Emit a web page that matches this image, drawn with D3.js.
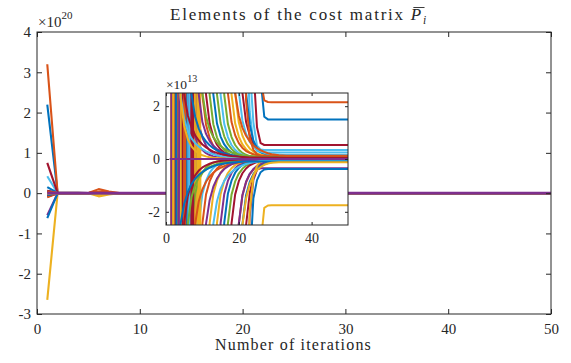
<!DOCTYPE html>
<html>
<head>
<meta charset="utf-8">
<script src="https://cdn.jsdelivr.net/npm/d3@7"></script>
<style>
  body { margin: 0; background: #fff; }
  svg { display: block; }
  text { font-family: "Liberation Serif", "Times New Roman", serif; fill: #262626; }
</style>
</head>
<body>
<svg id="chart" width="571" height="363"></svg>
<script>
// Iteration index (x values)
const iterations = [1,2,3,4,5,6,7,8,9,10,11,12,13,14,15,16,17,18,19,20,21,22,23,24,25,26,27,28,29,30,31,32,33,34,35,36,37,38,39,40,41,42,43,44,45,46,47,48,49,50];

// Elements of the cost matrix per iteration, in units of 1e13
const e01 = [2.2e7,1.2e5,9e4,6e4,4e4,2.5e4,1.5e4,9e3,6e3,4e3,2.5e3,1.6e3,1e3,700,450,300,200,130,90,60,40,27,18,12,8,3.0,1.6,1.5,1.5,1.5,1.5,1.5,1.5,1.5,1.5,1.5,1.5,1.5,1.5,1.5,1.5,1.5,1.5,1.5,1.5,1.5,1.5,1.5,1.5,1.5];
const e02 = [3.2e7,1.5e5,1e5,7e4,5e4,1.0e6,4e5,3e4,1.5e4,8e3,5e3,3e3,2e3,1.3e3,900,600,400,260,170,110,70,45,28,17,9,3.0,2.22,2.16,2.15,2.15,2.15,2.15,2.15,2.15,2.15,2.15,2.15,2.15,2.15,2.15,2.15,2.15,2.15,2.15,2.15,2.15,2.15,2.15,2.15,2.15];
const e03 = [-2.65e7,-1.3e5,-9e4,-6e4,-4e4,-8e5,-3e5,-2.5e4,-1.3e4,-7e3,-4.5e3,-2.8e3,-1.8e3,-1.2e3,-800,-550,-370,-250,-160,-100,-65,-40,-25,-15,-8,-3.2,-1.85,-1.76,-1.75,-1.75,-1.75,-1.75,-1.75,-1.75,-1.75,-1.75,-1.75,-1.75,-1.75,-1.75,-1.75,-1.75,-1.75,-1.75,-1.75,-1.75,-1.75,-1.75,-1.75,-1.75];
const e04 = [-5.5e6,-6e4,-4e4,-2.8e4,-1.9e4,-1.3e4,-8e3,-5e3,-3.2e3,-2e3,-1.3e3,-850,-550,-360,-240,-160,-100,-65,-40,-25,-14,-6,-2.2,-0.8,-0.4,-0.35,-0.35,-0.35,-0.35,-0.35,-0.35,-0.35,-0.35,-0.35,-0.35,-0.35,-0.35,-0.35,-0.35,-0.35,-0.35,-0.35,-0.35,-0.35,-0.35,-0.35,-0.35,-0.35,-0.35,-0.35];
const e05 = [3e5,8e3,-35,25,2e3,1.3e3,800,400,90,25,8,2.42,1.32,0.82,0.52,0.34,0.22,0.15,0.1,0.07,0.05,0.04,0.03,0.02,0.02,0.02,0.02,0.02,0.02,0.02,0.02,0.02,0.02,0.02,0.02,0.02,0.02,0.02,0.02,0.02,0.02,0.02,0.02,0.02,0.02,0.02,0.02,0.02,0.02,0.02];
const e06 = [4.2e6,5e4,3.5e4,2.4e4,1.6e4,1.1e4,7e3,4.5e3,3e3,2e3,1.3e3,850,560,370,240,160,100,65,40,24,13,7,3.5,1.4,0.5,0.36,0.34,0.34,0.34,0.34,0.34,0.34,0.34,0.34,0.34,0.34,0.34,0.34,0.34,0.34,0.34,0.34,0.34,0.34,0.34,0.34,0.34,0.34,0.34,0.34];
const e07 = [7.5e6,7e4,5e4,3.4e4,2.3e4,2.5e5,1e4,6.5e3,4.2e3,2.8e3,1.8e3,1.2e3,800,520,340,220,145,95,60,38,23,13,7,3.5,1.2,0.6,0.53,0.53,0.53,0.53,0.53,0.53,0.53,0.53,0.53,0.53,0.53,0.53,0.53,0.53,0.53,0.53,0.53,0.53,0.53,0.53,0.53,0.53,0.53,0.53];
const e08 = [-6.2e6,-7e4,-5e4,-3.5e4,-2.4e4,-1.6e4,-1.1e4,-7e3,-4.6e3,-3e3,-2e3,-1.3e3,-850,-560,-370,-240,-160,-100,-65,-40,-24,-12,-4,-1.5,-0.8,-0.5,-0.4,-0.38,-0.38,-0.38,-0.38,-0.38,-0.38,-0.38,-0.38,-0.38,-0.38,-0.38,-0.38,-0.38,-0.38,-0.38,-0.38,-0.38,-0.38,-0.38,-0.38,-0.38,-0.38,-0.38];
const e09 = [-1e6,-3e4,-2e4,-1.4e4,-1e4,4e5,1.5e5,-5e3,-3.5e3,-2.5e3,-1.8e3,-1.3e3,-950,-700,-520,-400,-90,-25,-8,-2.48,-1.38,-0.88,-0.58,-0.4,-0.28,-0.21,-0.16,-0.13,-0.11,-0.1,-0.09,-0.08,-0.08,-0.08,-0.08,-0.08,-0.08,-0.08,-0.08,-0.08,-0.08,-0.08,-0.08,-0.08,-0.08,-0.08,-0.08,-0.08,-0.08,-0.08];
const e10 = [2e5,0.3,-0.2,0.05,0.65,-4e5,-1e5,3e3,2.2e3,1.6e3,1.2e3,900,700,400,90,25,8,2.45,1.35,0.85,0.55,0.37,0.25,0.18,0.13,0.1,0.08,0.07,0.06,0.05,0.05,0.05,0.05,0.05,0.05,0.05,0.05,0.05,0.05,0.05,0.05,0.05,0.05,0.05,0.05,0.05,0.05,0.05,0.05,0.05];
const e11 = [-4e5,-2e4,-1.4e4,-1e4,-7e3,-5e3,-3.5e3,20,-30,-1.2e3,-400,-90,-25,-8,-2.43,-1.33,-0.83,-0.53,-0.35,-0.23,-0.16,-0.11,-0.08,-0.06,-0.05,-0.04,-0.03,-0.03,-0.03,-0.03,-0.03,-0.03,-0.03,-0.03,-0.03,-0.03,-0.03,-0.03,-0.03,-0.03,-0.03,-0.03,-0.03,-0.03,-0.03,-0.03,-0.03,-0.03,-0.03,-0.03];
const e12 = [-2e5,1.5e4,1e4,-25,40,3.5e3,2.5e3,1.8e3,1.3e3,1e3,750,400,90,25,8,2.43,1.33,0.83,0.53,0.35,0.23,0.16,0.11,0.08,0.06,0.05,0.04,0.03,0.03,0.03,0.03,0.03,0.03,0.03,0.03,0.03,0.03,0.03,0.03,0.03,0.03,0.03,0.03,0.03,0.03,0.03,0.03,0.03,0.03,0.03];
const e13 = [5e5,3e4,2e4,1.4e4,-40,30,5e3,3.5e3,2.5e3,1.8e3,1.3e3,900,650,450,300,200,130,80,45,22,10,5,1.8,0.6,0.3,0.25,0.25,0.25,0.25,0.25,0.25,0.25,0.25,0.25,0.25,0.25,0.25,0.25,0.25,0.25,0.25,0.25,0.25,0.25,0.25,0.25,0.25,0.25,0.25,0.25];
const e14 = [5e5,4e4,-30,50,1.6e4,1.2e4,9e3,6.5e3,4.8e3,3.5e3,2.6e3,1.9e3,1.4e3,1e3,750,550,300,90,25,8,2.5,1.4,0.9,0.6,0.42,0.3,0.23,0.18,0.15,0.13,0.12,0.11,0.1,0.1,0.1,0.1,0.1,0.1,0.1,0.1,0.1,0.1,0.1,0.1,0.1,0.1,0.1,0.1,0.1,0.1];
const e15 = [1.5e6,5e4,3.6e4,2.6e4,1.9e4,-60,25,7.5e3,5.5e3,4e3,3e3,2.2e3,1.6e3,1.2e3,900,650,480,300,90,25,8,2.5,1.3,0.7,0.4,0.26,0.19,0.15,0.13,0.12,0.12,0.12,0.12,0.12,0.12,0.12,0.12,0.12,0.12,0.12,0.12,0.12,0.12,0.12,0.12,0.12,0.12,0.12,0.12,0.12];
const e16 = [-5e5,2e4,8e3,3e3,-0.1,-1.25,400,40,8,2.4,1.3,0.8,0.5,0.32,0.2,0.13,0.08,0.05,0.03,0.02,0.01,0,0,0,0,0,0,0,0,0,0,0,0,0,0,0,0,0,0,0,0,0,0,0,0,0,0,0,0,0];
const e17 = [-3e5,-1.5e4,30,-45,-4e3,-2.5e3,-1.6e3,-400,-90,-25,-8,-2.42,-1.32,-0.82,-0.52,-0.34,-0.22,-0.15,-0.1,-0.07,-0.05,-0.04,-0.03,-0.02,-0.02,-0.02,-0.02,-0.02,-0.02,-0.02,-0.02,-0.02,-0.02,-0.02,-0.02,-0.02,-0.02,-0.02,-0.02,-0.02,-0.02,-0.02,-0.02,-0.02,-0.02,-0.02,-0.02,-0.02,-0.02,-0.02];
const e18 = [2e5,-40,30,400,90,25,8,2.41,1.31,0.81,0.51,0.33,0.21,0.14,0.09,0.06,0.04,0.03,0.02,0.01,0.01,0.01,0.01,0.01,0.01,0.01,0.01,0.01,0.01,0.01,0.01,0.01,0.01,0.01,0.01,0.01,0.01,0.01,0.01,0.01,0.01,0.01,0.01,0.01,0.01,0.01,0.01,0.01,0.01,0.01];
const e19 = [1e5,30,-2e3,-1.5e3,25,-40,-850,-720,-620,-540,-470,-420,-400,-90,-25,-8,-2.45,-1.35,-0.85,-0.55,-0.37,-0.25,-0.18,-0.13,-0.1,-0.08,-0.07,-0.06,-0.05,-0.05,-0.05,-0.05,-0.05,-0.05,-0.05,-0.05,-0.05,-0.05,-0.05,-0.05,-0.05,-0.05,-0.05,-0.05,-0.05,-0.05,-0.05,-0.05,-0.05,-0.05];
const e20 = [6e5,2e4,1.5e4,1.1e4,8e3,6e3,-20,45,2.6e3,2e3,1.5e3,1.15e3,900,700,550,400,90,25,8,2.55,1.45,0.95,0.65,0.47,0.35,0.28,0.23,0.2,0.18,0.17,0.16,0.15,0.15,0.15,0.15,0.15,0.15,0.15,0.15,0.15,0.15,0.15,0.15,0.15,0.15,0.15,0.15,0.15,0.15,0.15];
const e21 = [-8e5,-4e4,-3e4,35,-25,-1.2e4,-9e3,-6.5e3,-4.8e3,-3.5e3,-2.6e3,-1.9e3,-1.4e3,-1e3,-750,-550,-400,-200,-80,-25,-8,-2.5,-1.3,-0.7,-0.4,-0.25,-0.17,-0.13,-0.11,-0.1,-0.1,-0.1,-0.1,-0.1,-0.1,-0.1,-0.1,-0.1,-0.1,-0.1,-0.1,-0.1,-0.1,-0.1,-0.1,-0.1,-0.1,-0.1,-0.1,-0.1];
const e22 = [-3e5,5,-3,2e3,1.5e3,1.1e3,800,600,400,90,25,8,2.45,1.35,0.85,0.55,0.37,0.25,0.18,0.13,0.1,0.08,0.07,0.06,0.05,0.05,0.05,0.05,0.05,0.05,0.05,0.05,0.05,0.05,0.05,0.05,0.05,0.05,0.05,0.05,0.05,0.05,0.05,0.05,0.05,0.05,0.05,0.05,0.05,0.05];
const e23 = [-6e5,60,-50,-3e3,-2e3,-400,-90,-25,-8,-2.44,-1.34,-0.84,-0.54,-0.36,-0.24,-0.17,-0.12,-0.09,-0.07,-0.06,-0.05,-0.04,-0.04,-0.04,-0.04,-0.04,-0.04,-0.04,-0.04,-0.04,-0.04,-0.04,-0.04,-0.04,-0.04,-0.04,-0.04,-0.04,-0.04,-0.04,-0.04,-0.04,-0.04,-0.04,-0.04,-0.04,-0.04,-0.04,-0.04,-0.04];
const e24 = [1e5,-25,2e4,1.5e4,1.1e4,8e3,6e3,-45,35,2.6e3,2e3,1.5e3,1.1e3,800,400,90,25,8,2.48,1.38,0.88,0.58,0.4,0.28,0.21,0.16,0.13,0.11,0.1,0.09,0.08,0.08,0.08,0.08,0.08,0.08,0.08,0.08,0.08,0.08,0.08,0.08,0.08,0.08,0.08,0.08,0.08,0.08,0.08,0.08];
const e25 = [-2e5,3e4,-2e4,-1.5e4,-1.1e4,28,-50,-4.5e3,-3.4e3,-2.6e3,-2e3,-1.5e3,-1.1e3,-800,-600,-400,-90,-25,-8,-2.46,-1.36,-0.86,-0.56,-0.38,-0.26,-0.19,-0.14,-0.11,-0.09,-0.08,-0.07,-0.06,-0.06,-0.06,-0.06,-0.06,-0.06,-0.06,-0.06,-0.06,-0.06,-0.06,-0.06,-0.06,-0.06,-0.06,-0.06,-0.06,-0.06,-0.06];
const e26 = [-1e5,12,-8,6,3e3,2.2e3,1.6e3,1.2e3,900,400,90,25,8,2.46,1.36,0.86,0.56,0.38,0.26,0.19,0.14,0.11,0.09,0.08,0.07,0.06,0.06,0.06,0.06,0.06,0.06,0.06,0.06,0.06,0.06,0.06,0.06,0.06,0.06,0.06,0.06,0.06,0.06,0.06,0.06,0.06,0.06,0.06,0.06,0.06];
const e27 = [1.5e5,-20,15,-10,-400,-90,-25,-8,-2.42,-1.32,-0.82,-0.52,-0.34,-0.22,-0.15,-0.1,-0.07,-0.05,-0.04,-0.03,-0.02,-0.02,-0.02,-0.02,-0.02,-0.02,-0.02,-0.02,-0.02,-0.02,-0.02,-0.02,-0.02,-0.02,-0.02,-0.02,-0.02,-0.02,-0.02,-0.02,-0.02,-0.02,-0.02,-0.02,-0.02,-0.02,-0.02,-0.02,-0.02,-0.02];
const e28 = [6e5,-15,10,5e3,3.5e3,2.5e5,400,90,25,8,2.44,1.34,0.84,0.54,0.36,0.24,0.17,0.12,0.09,0.07,0.06,0.05,0.04,0.04,0.04,0.04,0.04,0.04,0.04,0.04,0.04,0.04,0.04,0.04,0.04,0.04,0.04,0.04,0.04,0.04,0.04,0.04,0.04,0.04,0.04,0.04,0.04,0.04,0.04,0.04];
const e29 = [-1.5e5,-5e3,40,-20,-2.7e3,-2.2e3,-1.8e3,-1.5e3,-1.25e3,-1.05e3,-900,-780,-680,-600,-530,-470,-400,-90,-25,-8,-2.47,-1.37,-0.87,-0.57,-0.39,-0.27,-0.2,-0.15,-0.12,-0.1,-0.09,-0.08,-0.07,-0.07,-0.07,-0.07,-0.07,-0.07,-0.07,-0.07,-0.07,-0.07,-0.07,-0.07,-0.07,-0.07,-0.07,-0.07,-0.07,-0.07];
const e30 = [-9e5,8,-6,4e3,3e3,3e5,1e5,1.5e3,1.2e3,1e3,850,700,400,90,25,8,2.5,1.4,0.9,0.6,0.42,0.3,0.23,0.18,0.15,0.13,0.12,0.11,0.1,0.1,0.1,0.1,0.1,0.1,0.1,0.1,0.1,0.1,0.1,0.1,0.1,0.1,0.1,0.1,0.1,0.1,0.1,0.1,0.1,0.1];
const e31 = [-2e5,25,-20,15,-4e3,-2.5e5,-8e4,-1.2e3,-900,-400,-90,-25,-8,-2.43,-1.33,-0.83,-0.53,-0.35,-0.23,-0.16,-0.11,-0.08,-0.06,-0.05,-0.04,-0.03,-0.03,-0.03,-0.03,-0.03,-0.03,-0.03,-0.03,-0.03,-0.03,-0.03,-0.03,-0.03,-0.03,-0.03,-0.03,-0.03,-0.03,-0.03,-0.03,-0.03,-0.03,-0.03,-0.03,-0.03];
const e32 = [-1e5,400,90,25,8,2.42,1.32,0.82,0.52,0.34,0.22,0.15,0.1,0.07,0.05,0.04,0.03,0.02,0.02,0.02,0.02,0.02,0.02,0.02,0.02,0.02,0.02,0.02,0.02,0.02,0.02,0.02,0.02,0.02,0.02,0.02,0.02,0.02,0.02,0.02,0.02,0.02,0.02,0.02,0.02,0.02,0.02,0.02,0.02,0.02];
const e33 = [5e4,30,-400,-90,-25,-8,-2.41,-1.31,-0.81,-0.51,-0.33,-0.21,-0.14,-0.09,-0.06,-0.04,-0.03,-0.02,-0.01,-0.01,-0.01,-0.01,-0.01,-0.01,-0.01,-0.01,-0.01,-0.01,-0.01,-0.01,-0.01,-0.01,-0.01,-0.01,-0.01,-0.01,-0.01,-0.01,-0.01,-0.01,-0.01,-0.01,-0.01,-0.01,-0.01,-0.01,-0.01,-0.01,-0.01,-0.01];
const e34 = [3e5,-35,2.5e3,2e3,1.6e3,-40,35,850,700,580,400,90,25,8,2.43,1.33,0.83,0.53,0.35,0.23,0.16,0.11,0.08,0.06,0.05,0.04,0.03,0.03,0.03,0.03,0.03,0.03,0.03,0.03,0.03,0.03,0.03,0.03,0.03,0.03,0.03,0.03,0.03,0.03,0.03,0.03,0.03,0.03,0.03,0.03];
const e35 = [-4e5,45,-3e3,-2.4e3,-1.9e3,-1.5e3,30,-35,-850,-720,-620,-540,-470,-400,-90,-25,-8,-2.44,-1.34,-0.84,-0.54,-0.36,-0.24,-0.17,-0.12,-0.09,-0.07,-0.06,-0.05,-0.04,-0.04,-0.04,-0.04,-0.04,-0.04,-0.04,-0.04,-0.04,-0.04,-0.04,-0.04,-0.04,-0.04,-0.04,-0.04,-0.04,-0.04,-0.04,-0.04,-0.04];
const e36 = [-5e5,-2e4,-1.5e4,-1.1e4,45,-30,-4.5e3,-3.4e3,-2.6e3,-2e3,-1.5e3,-400,-90,-25,-8,-2.42,-1.32,-0.82,-0.52,-0.34,-0.22,-0.15,-0.1,-0.07,-0.05,-0.04,-0.03,-0.02,-0.02,-0.02,-0.02,-0.02,-0.02,-0.02,-0.02,-0.02,-0.02,-0.02,-0.02,-0.02,-0.02,-0.02,-0.02,-0.02,-0.02,-0.02,-0.02,-0.02,-0.02,-0.02];
const e37 = [4e5,3e4,2.2e4,1.6e4,-25,60,6.5e3,4.8e3,3.5e3,2.6e3,1.9e3,1.4e3,1e3,750,550,400,280,190,100,35,9,2.2,0.8,0.35,0.18,0.11,0.08,0.07,0.07,0.07,0.07,0.07,0.07,0.07,0.07,0.07,0.07,0.07,0.07,0.07,0.07,0.07,0.07,0.07,0.07,0.07,0.07,0.07,0.07,0.07];
const e38 = [-1e5,-3e4,-2.2e4,-1.6e4,-1.2e4,-9e3,-6.5e3,-4.8e3,30,-40,-1.9e3,-1.4e3,-1e3,-750,-550,-400,-280,-190,-120,-60,-20,-6,-2,-0.7,-0.25,-0.1,-0.06,-0.05,-0.05,-0.05,-0.05,-0.05,-0.05,-0.05,-0.05,-0.05,-0.05,-0.05,-0.05,-0.05,-0.05,-0.05,-0.05,-0.05,-0.05,-0.05,-0.05,-0.05,-0.05,-0.05];
const e39 = [-1.5e5,50,-35,25,400,90,25,8,2.45,1.4,0.95,0.68,0.5,0.38,0.29,0.22,0.17,0.13,0.1,0.08,0.07,0.06,0.05,0.04,0.03,0.03,0.03,0.03,0.03,0.03,0.03,0.03,0.03,0.03,0.03,0.03,0.03,0.03,0.03,0.03,0.03,0.03,0.03,0.03,0.03,0.03,0.03,0.03,0.03,0.03];
const e40 = [8e4,45,-90,-25,-8,-2.45,-1.45,-0.98,-0.7,-0.52,-0.4,-0.31,-0.24,-0.19,-0.15,-0.12,-0.1,-0.08,-0.07,-0.06,-0.05,-0.05,-0.05,-0.05,-0.05,-0.05,-0.05,-0.05,-0.05,-0.05,-0.05,-0.05,-0.05,-0.05,-0.05,-0.05,-0.05,-0.05,-0.05,-0.05,-0.05,-0.05,-0.05,-0.05,-0.05,-0.05,-0.05,-0.05,-0.05,-0.05];
const e41 = [7e4,25,8,2.4,1.5,1.05,0.78,0.6,0.47,0.37,0.29,0.23,0.18,0.14,0.11,0.09,0.07,0.06,0.05,0.04,0.03,0.02,0.02,0.02,0.02,0.02,0.02,0.02,0.02,0.02,0.02,0.02,0.02,0.02,0.02,0.02,0.02,0.02,0.02,0.02,0.02,0.02,0.02,0.02,0.02,0.02,0.02,0.02,0.02,0.02];
const e42 = [-2.5e5,70,-25,-8,-2.4,-1.4,-0.9,-0.62,-0.44,-0.32,-0.24,-0.18,-0.13,-0.1,-0.08,-0.06,-0.05,-0.04,-0.03,-0.02,-0.02,-0.02,-0.02,-0.02,-0.02,-0.02,-0.02,-0.02,-0.02,-0.02,-0.02,-0.02,-0.02,-0.02,-0.02,-0.02,-0.02,-0.02,-0.02,-0.02,-0.02,-0.02,-0.02,-0.02,-0.02,-0.02,-0.02,-0.02,-0.02,-0.02];
const e43 = [1e5,-30,400,90,25,8,2.45,1.6,1.15,0.86,0.66,0.52,0.41,0.33,0.26,0.21,0.17,0.14,0.11,0.09,0.08,0.07,0.06,0.05,0.04,0.04,0.04,0.04,0.04,0.04,0.04,0.04,0.04,0.04,0.04,0.04,0.04,0.04,0.04,0.04,0.04,0.04,0.04,0.04,0.04,0.04,0.04,0.04,0.04,0.04];
const e44 = [-2e5,20,-15,-400,-150,-50,-8,-2.46,-1.6,-1.15,-0.86,-0.66,-0.52,-0.41,-0.33,-0.27,-0.22,-0.18,-0.15,-0.13,-0.11,-0.1,-0.09,-0.08,-0.07,-0.06,-0.06,-0.06,-0.06,-0.06,-0.06,-0.06,-0.06,-0.06,-0.06,-0.06,-0.06,-0.06,-0.06,-0.06,-0.06,-0.06,-0.06,-0.06,-0.06,-0.06,-0.06,-0.06,-0.06,-0.06];
const e45 = [4e4,-30,20,2.3,1.25,0.75,0.48,0.32,0.21,0.14,0.1,0.07,0.05,0.04,0.03,0.02,0.01,0.01,0.01,0.01,0.01,0.01,0.01,0.01,0.01,0.01,0.01,0.01,0.01,0.01,0.01,0.01,0.01,0.01,0.01,0.01,0.01,0.01,0.01,0.01,0.01,0.01,0.01,0.01,0.01,0.01,0.01,0.01,0.01,0.01];
const e46 = [-1e5,35,-3e3,-2e3,-1.3e3,-900,-400,-90,-25,-8,-2.45,-1.55,-1.05,-0.74,-0.53,-0.38,-0.28,-0.2,-0.15,-0.11,-0.08,-0.06,-0.04,-0.03,-0.02,-0.01,-0.01,-0.01,-0.01,-0.01,-0.01,-0.01,-0.01,-0.01,-0.01,-0.01,-0.01,-0.01,-0.01,-0.01,-0.01,-0.01,-0.01,-0.01,-0.01,-0.01,-0.01,-0.01,-0.01,-0.01];
const e47 = [1.2e5,-18,2.5e3,1.8e3,1.3e3,400,90,25,8,2.5,1.6,1.12,0.83,0.63,0.49,0.39,0.31,0.25,0.2,0.17,0.14,0.12,0.11,0.1,0.09,0.08,0.08,0.08,0.08,0.08,0.08,0.08,0.08,0.08,0.08,0.08,0.08,0.08,0.08,0.08,0.08,0.08,0.08,0.08,0.08,0.08,0.08,0.08,0.08,0.08];
const e48 = [-1.2e5,28,-1.8e3,-1.3e3,-1e3,-780,-620,-500,-400,-90,-25,-8,-2.46,-1.6,-1.12,-0.83,-0.63,-0.49,-0.38,-0.3,-0.24,-0.19,-0.15,-0.12,-0.1,-0.08,-0.07,-0.06,-0.05,-0.04,-0.04,-0.04,-0.04,-0.04,-0.04,-0.04,-0.04,-0.04,-0.04,-0.04,-0.04,-0.04,-0.04,-0.04,-0.04,-0.04,-0.04,-0.04,-0.04,-0.04];
const e49 = [2.5e5,-50,35,8,2.45,1.65,1.2,0.9,0.7,0.55,0.44,0.35,0.28,0.23,0.19,0.16,0.13,0.11,0.1,0.09,0.08,0.07,0.06,0.06,0.06,0.06,0.06,0.06,0.06,0.06,0.06,0.06,0.06,0.06,0.06,0.06,0.06,0.06,0.06,0.06,0.06,0.06,0.06,0.06,0.06,0.06,0.06,0.06,0.06,0.06];
const e50 = [-1.8e5,40,-8,-2.45,-1.7,-1.25,-0.95,-0.75,-0.6,-0.49,-0.4,-0.33,-0.27,-0.23,-0.2,-0.17,-0.15,-0.13,-0.12,-0.11,-0.1,-0.09,-0.09,-0.09,-0.09,-0.09,-0.09,-0.09,-0.09,-0.09,-0.09,-0.09,-0.09,-0.09,-0.09,-0.09,-0.09,-0.09,-0.09,-0.09,-0.09,-0.09,-0.09,-0.09,-0.09,-0.09,-0.09,-0.09,-0.09,-0.09];
const e51 = [3e5,-22,5e3,4e3,3.2e3,1.8e5,6e4,2e3,1.6e3,1.3e3,1e3,800,650,520,400,90,25,8,2.5,1.65,1.18,0.88,0.67,0.52,0.41,0.33,0.27,0.22,0.18,0.16,0.14,0.13,0.12,0.12,0.12,0.12,0.12,0.12,0.12,0.12,0.12,0.12,0.12,0.12,0.12,0.12,0.12,0.12,0.12,0.12];
const e52 = [-1.5e5,15,-4e3,-3.2e3,-2.6e3,-1.5e5,-5e4,-1.8e3,-1.5e3,-1.25e3,-1.05e3,-900,-780,-680,-600,-530,-400,-90,-25,-8,-2.5,-1.5,-0.95,-0.62,-0.42,-0.3,-0.22,-0.17,-0.14,-0.13,-0.12,-0.12,-0.12,-0.12,-0.12,-0.12,-0.12,-0.12,-0.12,-0.12,-0.12,-0.12,-0.12,-0.12,-0.12,-0.12,-0.12,-0.12,-0.12,-0.12];
const e53 = [0,0,0,0,0,0,0,0,0,0,0,0,0,0,0,0,0,0,0,0,0,0,0,0,0,0,0,0,0,0,0,0,0,0,0,0,0,0,0,0,0,0,0,0,0,0,0,0,0,0];

const elements = [e01,e02,e03,e04,e05,e06,e07,e08,e09,e10,e11,e12,e13,e14,e15,e16,e17,e18,e19,e20,
                  e21,e22,e23,e24,e25,e26,e27,e28,e29,e30,e31,e32,e33,e34,e35,e36,e37,e38,e39,e40,
                  e41,e42,e43,e44,e45,e46,e47,e48,e49,e50,e51,e52,e53];

// Line colour order
const lineColors = ["#0072BD","#D95319","#EDB120","#7E2F8E","#77AC30","#4DBEEE","#A2142F"];

// Tick values
const xTicks = [0,10,20,30,40,50];
const yTicks = [-3,-2,-1,0,1,2,3,4];
const insetXTicks = [0,20,40];
const insetYTicks = [-2,0,2];

// Main axis shows units of 1e20, inset of 1e13
const mainExponent = 20;
const insetExponent = 13;
const unitRatio = Math.pow(10, mainExponent - insetExponent);

const serif = "Liberation Serif";
const svg = d3.select("#chart");
const axisColor = "#262626";

svg.append("rect").attr("width", 571).attr("height", 363).attr("fill", "#fff");

function drawFrame(xs, ys, xt, yt, tick, xPad, yPad, fontSize) {
  const [x0, x1] = xs.range();
  const [y0, y1] = ys.range();
  const g = svg.append("g");
  const fmt = d => String(d);
  g.append("g").attr("transform", `translate(0,${y0})`)
    .call(d3.axisBottom(xs).tickValues(xt).tickSize(-tick).tickSizeOuter(0).tickPadding(xPad).tickFormat(fmt));
  g.append("g").attr("transform", `translate(0,${y1})`)
    .call(d3.axisTop(xs).tickValues(xt).tickSize(-tick).tickSizeOuter(0).tickFormat(""));
  g.append("g").attr("transform", `translate(${x0},0)`)
    .call(d3.axisLeft(ys).tickValues(yt).tickSize(-tick).tickSizeOuter(0).tickPadding(yPad).tickFormat(fmt));
  g.append("g").attr("transform", `translate(${x1},0)`)
    .call(d3.axisRight(ys).tickValues(yt).tickSize(-tick).tickSizeOuter(0).tickFormat(""));
  g.selectAll(".domain").remove();
  g.selectAll(".tick line").attr("stroke", axisColor).attr("stroke-width", 1);
  g.selectAll("g").attr("font-family", serif).attr("font-size", fontSize);
  g.selectAll("text").attr("font-family", serif).attr("font-size", fontSize).attr("fill", axisColor);
  g.append("rect").attr("x", x0).attr("y", y1).attr("width", x1 - x0).attr("height", y0 - y1)
    .attr("fill", "none").attr("stroke", axisColor).attr("stroke-width", 1);
}

function exponentLabel(xp, yp, exp, size, supSize, rise) {
  const t = svg.append("text").attr("x", xp).attr("y", yp)
    .attr("font-family", serif).attr("font-size", size);
  t.append("tspan").text("\u00D710");
  t.append("tspan").attr("font-size", supSize).attr("dy", -rise).text(exp);
}

// spread a text's letters so it spans a given width
function fitWidth(sel, target) {
  const n = sel.node();
  const w = n.getComputedTextLength();
  const chars = n.getNumberOfChars();
  sel.attr("letter-spacing", (target - w) / chars);
}

// ---- main axes ----
const x = d3.scaleLinear().domain([0, 50]).range([37, 551]);
const y = d3.scaleLinear().domain([-3, 4]).range([314, 32]);

svg.append("clipPath").attr("id", "mainClip").append("rect")
  .attr("x", 37).attr("y", 32).attr("width", 514).attr("height", 282);

const mainLine = d3.line()
  .x((d, j) => x(iterations[j]))
  .y(d => y(d / unitRatio));

svg.append("g").attr("clip-path", "url(#mainClip)")
  .selectAll("path").data(elements).join("path")
  .attr("d", mainLine)
  .attr("fill", "none")
  .attr("stroke", (d, i) => lineColors[i % lineColors.length])
  .attr("stroke-width", (d, i) => i === elements.length - 1 ? 2.6 : 2.1)
  .attr("stroke-linejoin", "round");

drawFrame(x, y, xTicks, yTicks, 5, 9, 6, 15);
exponentLabel(38, 27, mainExponent, 15, 11, 8);

// title
const titleText = "Elements of the cost matrix ";
const title = svg.append("text").attr("y", 20).attr("font-family", serif).attr("font-size", 17);
title.append("tspan").text(titleText);
title.append("tspan").attr("font-style", "italic").text("P");
title.append("tspan").attr("font-style", "italic").attr("font-size", 11.5).attr("dy", 3.5).text("i");
fitWidth(title, 258);
title.attr("x", 170);
{
  const n = title.node();
  const s = n.getStartPositionOfChar(titleText.length);
  const e = n.getEndPositionOfChar(titleText.length);
  svg.append("line")
    .attr("x1", s.x + 2.5).attr("x2", e.x + 1.5)
    .attr("y1", 7.5).attr("y2", 7.5)
    .attr("stroke", axisColor).attr("stroke-width", 0.9);
}

// x label
const xLabel = svg.append("text").attr("x", 215).attr("y", 350)
  .attr("font-family", serif).attr("font-size", 16).text("Number of iterations");
fitWidth(xLabel, 157);

// ---- inset axes ----
const xi = d3.scaleLinear().domain([0, 50]).range([166, 348]);
const yi = d3.scaleLinear().domain([-2.5, 2.5]).range([225, 93]);

svg.append("rect").attr("x", 166).attr("y", 93).attr("width", 182).attr("height", 132).attr("fill", "#fff");
svg.append("clipPath").attr("id", "insetClip").append("rect")
  .attr("x", 166).attr("y", 93).attr("width", 182).attr("height", 132);

const insetLine = d3.line()
  .x((d, j) => xi(iterations[j]))
  .y(d => Math.max(-2e4, Math.min(2e4, yi(d))));

svg.append("g").attr("clip-path", "url(#insetClip)")
  .selectAll("path").data(elements).join("path")
  .attr("d", insetLine)
  .attr("fill", "none")
  .attr("stroke", (d, i) => lineColors[i % lineColors.length])
  .attr("stroke-width", 2)
  .attr("stroke-linejoin", "round");

drawFrame(xi, yi, insetXTicks, insetYTicks, 3, 8, 6, 14);
exponentLabel(166, 89, insetExponent, 13.5, 10, 7);
</script>
</body>
</html>
